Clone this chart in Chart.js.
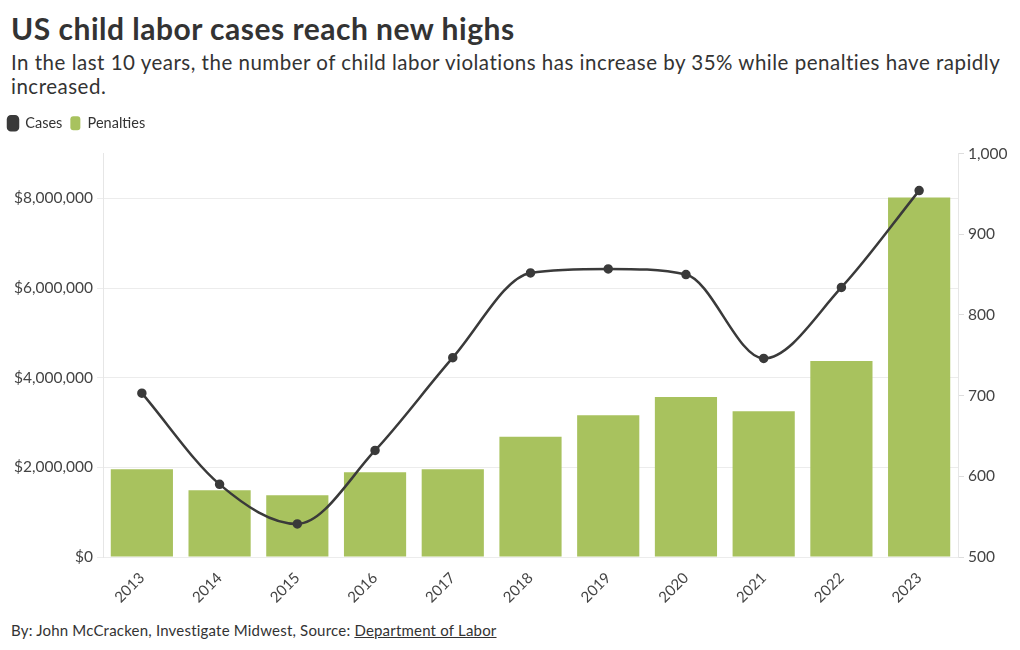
<!DOCTYPE html>
<html><head><meta charset="utf-8">
<script src="https://cdn.jsdelivr.net/npm/chart.js@4"></script>
<style>
html,body{margin:0;padding:0;background:#fff;width:1020px;height:650px;overflow:hidden;font-family:Lato,"Noto Sans",sans-serif;color:#333;}
#title{position:absolute;left:11px;top:10px;font-size:30px;font-weight:bold;color:#333;letter-spacing:0.5px;}
#sub{position:absolute;left:11px;top:50px;width:1005px;font-size:20.5px;line-height:24px;color:#333;letter-spacing:0.5px;}
#wrap{position:absolute;left:0;top:108px;width:1020px;height:510px;}
#foot{position:absolute;left:11px;top:621px;font-size:15px;color:#333;letter-spacing:0.2px;}
#foot u{text-decoration:underline;}
</style></head><body>
<div id="title">US child labor cases reach new highs</div>
<div id="sub">In the last 10 years, the number of child labor violations has increase by 35% while penalties have rapidly increased.</div>
<div id="wrap"><canvas id="c"></canvas></div>
<div id="foot">By: John McCracken, Investigate Midwest, Source: <u>Department of Labor</u></div>
<script>
const years = ["2013","2014","2015","2016","2017","2018","2019","2020","2021","2022","2023"];
const penalties = [1960000,1490000,1380000,1890000,1960000,2680000,3160000,3570000,3250000,4370000,8020000];
const cases = [703,590,541,632,747,852,857,850,746,834,954];
const leftTicks = [0,2000000,4000000,6000000,8000000];
const rightTicks = [500,600,700,800,900,1000];

const fam = "Lato, 'Noto Sans', sans-serif";
const tickFont = {family:fam, size:15.5};
const legendGap = {
  id:'legendGap',
  beforeInit(chart){
    const fit = chart.legend.fit;
    chart.legend.fit = function(){ fit.call(this); this.height += 13; };
  }
};
new Chart(document.getElementById('c'), {
  data: {
    labels: years,
    datasets: [
      {type:'line', label:'Cases', data:cases, yAxisID:'y1', borderColor:'#3a3a3a', backgroundColor:'#3a3a3a',
       borderWidth:2.5, pointRadius:3.5, pointBackgroundColor:'#3a3a3a', cubicInterpolationMode:'monotone', order:0},
      {type:'bar', label:'Penalties', data:penalties, yAxisID:'y', backgroundColor:'#a8c25e', borderWidth:0,
       barPercentage:0.8, categoryPercentage:1.0, order:1}
    ]
  },
  plugins:[legendGap],
  options: {
    responsive:true, maintainAspectRatio:false, animation:false,
    layout:{padding:{left:0,right:0,top:0,bottom:0}},
    plugins:{
      legend:{position:'top', align:'start', labels:{font:{family:fam,size:14.5}, color:'#333', boxWidth:10, boxHeight:14, borderRadius:3, useBorderRadius:true, padding:8}},
      tooltip:{enabled:false}
    },
    scales:{
      x:{grid:{display:false}, border:{display:false}, ticks:{font:{family:fam,size:15}, color:'#444', maxRotation:45, minRotation:45, padding:4},
         afterFit(s){s.height=61;}},
      y:{position:'left', min:0, max:9000000, afterBuildTicks(s){s.ticks=leftTicks.map(v=>({value:v}));},
         grid:{color:'#ececec', tickLength:6}, border:{display:true,color:'#e6e6e6'},
         ticks:{font:tickFont, color:'#444', padding:4, callback:v=>'$'+v.toLocaleString('en-US')},
         afterFit(s){s.width=103;}},
      y1:{position:'right', min:500, max:1000, afterBuildTicks(s){s.ticks=rightTicks.map(v=>({value:v}));},
         grid:{drawOnChartArea:false, color:'#dddddd', tickLength:6}, border:{display:true,color:'#e6e6e6'},
         ticks:{font:tickFont, color:'#444', padding:4, callback:v=>v.toLocaleString('en-US')},
         afterFit(s){s.width=62;}}
    }
  }
});
</script>
</body></html>
